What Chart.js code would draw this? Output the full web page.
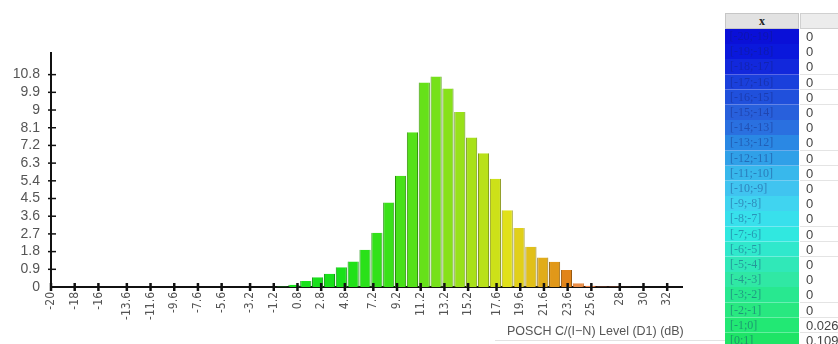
<!DOCTYPE html>
<html><head><meta charset="utf-8">
<script src="https://cdn.jsdelivr.net/npm/chart.js@4.4.1/dist/chart.umd.min.js"></script>
<style>
html,body{margin:0;padding:0;background:#fff;width:838px;height:344px;overflow:hidden;}
#wrap{position:absolute;left:0;top:0;width:838px;height:344px;}
#title{position:absolute;left:507px;top:324px;font:12.5px "Liberation Sans",Arial,sans-serif;color:#555;white-space:nowrap;}
#foot{position:absolute;left:495px;top:340px;width:230px;height:0;border-top:1px solid #e2e2e2;}
#tbl{position:absolute;left:725px;top:13px;width:113px;height:331px;overflow:hidden;}
.cell{position:absolute;box-sizing:border-box;white-space:nowrap;overflow:hidden;}
</style></head><body>
<div id="wrap"><canvas id="c" width="838" height="344"></canvas></div>
<div id="foot"></div>
<div id="title"></div>
<div id="tbl"></div>
<script>
// ---- data ----
const binStarts = [-20,-19,-18,-17,-16,-15,-14,-13,-12,-11,-10,-9,-8,-7,-6,-5,-4,-3,-2,-1,0,1,2,3,4,5,6,7,8,9,10,11,12,13,14,15,16,17,18,19,20,21,22,23,24,25,26,27,28,29,30,31,32];
const binValues = [0,0,0,0,0,0,0,0,0,0,0,0,0,0,0,0,0,0,0,0.026,0.109,0.3,0.5,0.68,1.0,1.3,1.9,2.76,4.3,5.66,7.87,10.4,10.7,10.1,8.9,7.6,6.8,5.5,3.9,3.0,2.05,1.5,1.28,0.87,0.19,0.06,0.03,0.02,0.01,0,0,0,0];
const xTickValues = [-20,-18,-16,-13.6,-11.6,-9.6,-7.6,-5.6,-3.2,-1.2,0.8,2.8,4.8,7.2,9.2,11.2,13.2,15.2,17.6,19.6,21.6,23.6,25.6,28,30,32];
const xTickLabels = ["-20","-18","-16","-13.6","-11.6","-9.6","-7.6","-5.6","-3.2","-1.2","0.8","2.8","4.8","7.2","9.2","11.2","13.2","15.2","17.6","19.6","21.6","23.6","25.6","28","30","32"];
const yTickValues = [0,0.9,1.8,2.7,3.6,4.5,5.4,6.3,7.2,8.1,9,9.9,10.8];
const yTickLabels = ["0","0.9","1.8","2.7","3.6","4.5","5.4","6.3","7.2","8.1","9","9.9","10.8"];
const axisTitle = "POSCH C/(I\u2212N) Level (D1) (dB)";
const tableHeader = "x";
const tableRanges = ["[-20;-19]","[-19;-18]","[-18;-17]","[-17;-16]","[-16;-15]","[-15;-14]","[-14;-13]","[-13;-12]","[-12;-11]","[-11;-10]","[-10;-9]","[-9;-8]","[-8;-7]","[-7;-6]","[-6;-5]","[-5;-4]","[-4;-3]","[-3;-2]","[-2;-1]","[-1;0]","[0;1]","[1;2]"];
const tableValues = ["0","0","0","0","0","0","0","0","0","0","0","0","0","0","0","0","0","0","0","0.026","0.109","0.3"];

// ---- styles ----
const rowColors = ["#0a10d8","#0a18dc","#1228dc","#1a40dc","#2050dc","#2860dc","#2a70e0","#2a88e4","#30a0e8","#38b8ec","#40c4f0","#40d4f0","#38e0ec","#30e8e0","#30e8cc","#30e8b8","#30e8a4","#28e890","#28e880","#22e874","#1ee466","#1ee05c"];
const hueStops = [[-2,122],[4,120],[8,110],[10,102],[12,92],[14,82],[16,72],[18,60],[20,50],[22,38],[23,32],[24,26],[26,16]];
function hueFor(k){
  if (k <= hueStops[0][0]) return hueStops[0][1];
  for (let i=1;i<hueStops.length;i++){
    const [a,ha]=hueStops[i-1],[b,hb]=hueStops[i];
    if (k<=b) return ha+(hb-ha)*(k-a)/(b-a);
  }
  return hueStops[hueStops.length-1][1];
}
const barFill = binStarts.map(k => `hsl(${hueFor(k)},80%,${k>=24?60:49}%)`);
const barEdge = binStarts.map(k => `hsl(${hueFor(k)},85%,${k>=24?42:31}%)`);

const tickMarks = {
  id:'tickMarks',
  afterDraw(chart){
    const {ctx, scales:{x,y}, chartArea} = chart;
    ctx.save(); ctx.strokeStyle='#111';
    ctx.lineWidth=2.5;
    x.ticks.forEach(t=>{const px=x.getPixelForValue(t.value); ctx.beginPath(); ctx.moveTo(px, chartArea.bottom-4); ctx.lineTo(px, chartArea.bottom+4); ctx.stroke();});
    ctx.lineWidth=1.5;
    y.ticks.forEach(t=>{ if(t.value===0) return; const py=y.getPixelForValue(t.value); ctx.beginPath(); ctx.moveTo(chartArea.left-3, py); ctx.lineTo(chartArea.left+5, py); ctx.stroke();});
    ctx.restore();
  }
};

new Chart(document.getElementById('c'), {
  type:'bar',
  data:{ datasets:[{
    data: binStarts.map((s,i)=>({x:s+0.5, y:binValues[i]})),
    backgroundColor: barFill,
    borderColor: barEdge,
    borderWidth: {left:1,right:1,top:0,bottom:0},
    borderSkipped: 'start',
    barPercentage: 1.0,
    categoryPercentage: 0.94
  }]},
  options:{
    responsive:false, animation:false,
    layout:{padding:{left:0,top:53,right:156,bottom:0}},
    plugins:{legend:{display:false}, tooltip:{enabled:false}},
    scales:{
      x:{ type:'linear', min:-20, max:33.25, offset:false,
        afterBuildTicks: s => { s.ticks = xTickValues.map(v=>({value:v})); },
        afterFit: s => { s.height = 57; },
        grid:{display:false, drawTicks:false},
        border:{display:true, color:'#111', width:2},
        ticks:{ autoSkip:false, maxRotation:90, minRotation:90, padding:5, color:'#555',
          font:{family:'"Liberation Sans Narrow","DejaVu Sans Condensed","Liberation Sans",sans-serif', size:12},
          callback:(v,i)=>xTickLabels[i] }
      },
      y:{ min:0, max:11.9,
        afterBuildTicks: s => { s.ticks = yTickValues.map(v=>({value:v})); },
        afterFit: s => { s.width = 51; },
        grid:{display:false, drawTicks:false},
        border:{display:true, color:'#111', width:2},
        ticks:{ autoSkip:false, padding:11, color:'#555', font:{family:'"Liberation Sans",Arial,sans-serif', size:14},
          callback:(v,i)=>yTickLabels[i] }
      }
    }
  },
  plugins:[tickMarks]
});

document.getElementById('title').textContent = axisTitle;

// table
const tbl = document.getElementById('tbl');
function cell(left, top, w, h, css, text){
  const d=document.createElement('div'); d.className='cell';
  Object.assign(d.style,{left:left+'px',top:top+'px',width:w+'px',height:h+'px'},css);
  d.textContent=text; tbl.appendChild(d); return d;
}
cell(0,0,74,16,{background:'#e2e2e2',border:'1px solid #c6c6c6',font:'bold 12px "Liberation Serif",serif',color:'#222',textAlign:'center',lineHeight:'14px'},tableHeader);
cell(75,0,60,16,{background:'#ececec',border:'1px solid #d0d0d0'},'');
const rowH = 15.2;
tableRanges.forEach((r,i)=>{
  const top = 16 + i*rowH;
  cell(0,top,74,rowH+0.5,{background:rowColors[i],borderBottom:'1px solid rgba(255,255,255,0.3)',font:'12px "Liberation Serif",serif',color:'rgba(20,30,110,0.4)',paddingLeft:'5px',lineHeight:rowH+'px'},r);
  cell(75,top,60,rowH+0.5,{background:'#fff',borderBottom:'1px solid #e4e4e4',font:'13px "Liberation Sans",sans-serif',color:'#444',paddingLeft:'6px',lineHeight:rowH+'px'},tableValues[i]);
});
</script>
</body></html>
